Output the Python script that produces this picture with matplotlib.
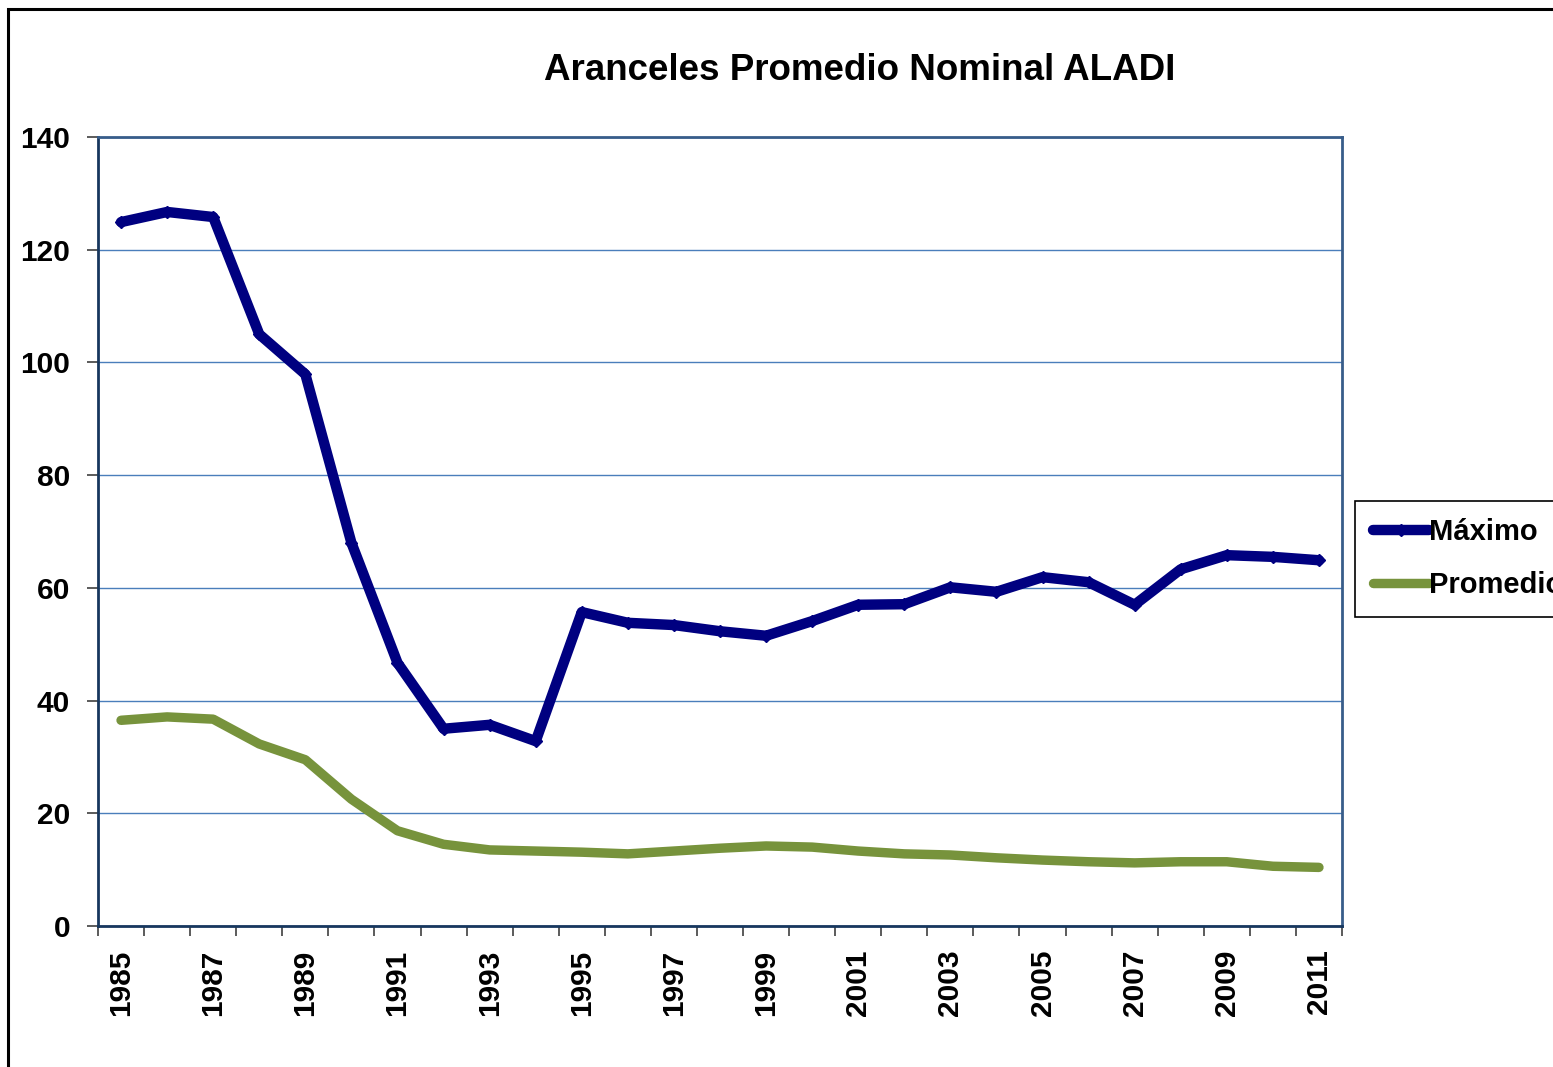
import numpy as np
import matplotlib.pyplot as plt
from matplotlib.patches import Rectangle
from matplotlib.ticker import FixedLocator, NullFormatter

plt.rcParams['font.family'] = ['Liberation Sans', 'DejaVu Sans']
plt.rcParams['font.weight'] = 'bold'

years = list(range(1985, 2012))
maximo = [124.9, 126.7, 125.8, 105.0, 97.9, 68.0, 46.7, 35.0, 35.7, 32.8,
          55.7, 53.8, 53.4, 52.3, 51.5, 54.1, 57.0, 57.1, 60.1, 59.3,
          61.9, 61.0, 57.0, 63.3, 65.8, 65.5, 64.9]
promedio = [36.5, 37.1, 36.7, 32.3, 29.5, 22.5, 16.9, 14.5, 13.5, 13.3,
            13.1, 12.8, 13.3, 13.8, 14.2, 14.0, 13.3, 12.8, 12.6, 12.1,
            11.7, 11.4, 11.2, 11.4, 11.4, 10.6, 10.4]
title = "Aranceles Promedio Nominal ALADI"

W, H = 1553, 1067
fig = plt.figure(figsize=(W / 100, H / 100), dpi=100)

# outer chart border (cut off at right and bottom)
fig.patches.append(Rectangle((8 / W, -0.1), 1.2, 1 - 9 / H + 0.1, transform=fig.transFigure,
                             fill=False, edgecolor='black', linewidth=2.2))

ax = fig.add_axes([98 / W, 1 - 926 / H, (1342 - 98) / W, (926 - 137) / H])
x = np.arange(len(years))

ax.plot(x, maximo, color='#000080', linewidth=7.5, marker='D', markersize=6,
        solid_joinstyle='round', solid_capstyle='round', label='Máximo', zorder=4)
ax.plot(x, promedio, color='#77933C', linewidth=6.8,
        solid_joinstyle='round', solid_capstyle='round', label='Promedio', zorder=3)

ax.set_xlim(-0.5, len(years) - 0.5)
ax.set_ylim(0, 140)
ax.set_yticks(range(0, 141, 20))
ax.yaxis.grid(True, color='#4a7ebb', linewidth=1.0)
ax.set_axisbelow(True)

ax.set_xticks(x[::2])
ax.set_xticklabels([str(y) for y in years[::2]], rotation=90)
ax.xaxis.set_minor_locator(FixedLocator(np.arange(-0.5, len(years), 1)))
ax.xaxis.set_minor_formatter(NullFormatter())
ax.tick_params(axis='x', which='major', length=0, pad=17, labelsize=21.5)
ax.tick_params(axis='x', which='minor', length=7, width=1.2, color='#404040')
ax.tick_params(axis='y', length=8, width=1.2, color='#404040', pad=12, labelsize=21.5)
for lab in ax.get_xticklabels() + ax.get_yticklabels():
    lab.set_fontweight('bold')

for side in ['top', 'right']:
    ax.spines[side].set_color('#385d8a')
    ax.spines[side].set_linewidth(2)
for side in ['left', 'bottom']:
    ax.spines[side].set_color('#17375e')
    ax.spines[side].set_linewidth(2)

fig.text(860 / W, 1 - 70 / H, title, ha='center', va='center',
         fontsize=26.5, fontweight='bold')

# legend sits on the right edge, partly cut off like in the original
leg = fig.legend(loc='upper left', bbox_to_anchor=(1355 / W, 1 - 501 / H),
                 borderaxespad=0, prop={'size': 21, 'weight': 'bold'},
                 handlelength=1.95, handletextpad=0.0, labelspacing=0.85,
                 borderpad=0.6, fancybox=False, framealpha=1,
                 edgecolor='black', markerscale=1.0)
leg.get_frame().set_linewidth(1.2)

fig.savefig('out.png', dpi=100)
